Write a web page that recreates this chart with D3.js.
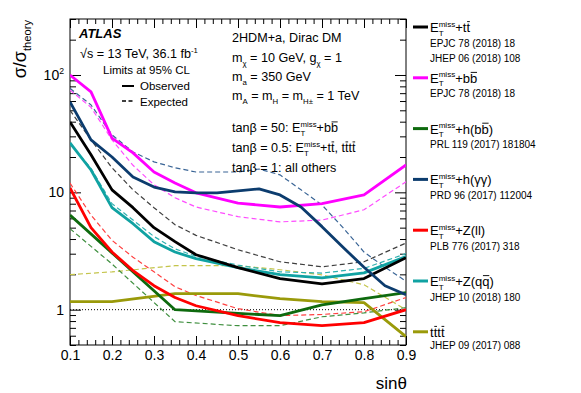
<!DOCTYPE html>
<html>
<head>
<meta charset="utf-8">
<script src="https://cdn.jsdelivr.net/npm/d3@7"></script>
<style>
  body { margin: 0; background: #fff; }
  text { font-family: "Liberation Sans", Arial, sans-serif; fill: #000; white-space: pre; }
</style>
</head>
<body>
<div id="chart"></div>
<script>
// sin(theta) grids the limits were read at
const sinTheta = [0.1, 0.15, 0.2, 0.25, 0.3, 0.35, 0.4, 0.5, 0.6, 0.7, 0.8, 0.9]
const sinThetaFine = [0.1, 0.15, 0.2, 0.25, 0.3, 0.35, 0.4, 0.45, 0.5, 0.55, 0.6, 0.65, 0.7, 0.75, 0.8, 0.85, 0.9]
const sinThetaCoarse = [0.1, 0.2, 0.35, 0.5, 0.6, 0.7, 0.8, 0.9]

// sigma / sigma_theory, observed and expected
const ttObs = [39.8, 20.9, 10.5, 7.4, 5.0, 3.8, 2.94, 2.28, 1.84, 1.66, 1.84, 2.77]
const ttExp = [50, 28, 16.2, 10.5, 7.4, 5.3, 4.3, 3.24, 2.56, 2.32, 2.56, 3.7]
const bbObs = [100, 71.7, 29, 21.7, 14.9, 12, 9.9, 8.1, 7.5, 8.0, 9.5, 17.1]
const bbExp = [74.5, 53, 28, 17, 11.6, 9, 7.5, 6.2, 5.6, 5.8, 7.1, 12.3]
const hbbObs = [6.4, 3.05, 1.0, 0.93, 0.89, 1.1, 1.24, 1.4]
const hbbExp = [4.9, 2.45, 0.79, 0.73, 0.73, 0.87, 0.94, 1.04]
const hggObs = [59, 28, 20, 13.5, 11.1, 10.1, 9.9, 9.9, 10.3, 10.7, 9.5, 7.5, 5.1, 3.4, 2.3, 1.6, 1.34]
const hggExp = [77, 55.6, 30.9, 22.1, 18.2, 16.2, 14.9, 14.9, 14.9, 15.8, 14.1, 10.5, 7.8, 5.0, 3.1, 2.3, 1.75]
const zllObs = [10.9, 5.0, 3.1, 2.15, 1.6, 1.27, 1.08, 0.89, 0.775, 0.73, 0.775, 1.0]
const zllExp = [12, 6.4, 3.9, 2.8, 2.1, 1.57, 1.32, 1.02, 0.89, 0.91, 0.96, 1.27]
const zqqObs = [26.4, 15.5, 7.4, 5.4, 3.8, 3.1, 2.72, 2.28, 1.99, 1.87, 2.06, 2.83]
const zqqExp = [26, 16, 8.0, 5.8, 4.2, 3.3, 2.85, 2.4, 2.1, 2.05, 2.25, 3.0]
const ttttObs = [1.17, 1.17, 1.37, 1.37, 1.24, 1.17, 1.15, 0.59]
const ttttExp = [1.99, 2.1, 2.37, 2.37, 2.19, 1.98, 1.63, 1.0]

const xTicks = [0.1, 0.2, 0.3, 0.4, 0.5, 0.6, 0.7, 0.8, 0.9]
const yTicks = [1, 10, 100]

const canvasWidth = 581
const canvasHeight = 393
const margins = {top: 19, right: 175, bottom: 48, left: 70}
const width = canvasWidth - margins.left - margins.right
const height = canvasHeight - margins.top - margins.bottom

const svg = d3.select('#chart')
  .append('svg')
  .attr('width', canvasWidth)
  .attr('height', canvasHeight)

const plot = svg.append('g')
  .attr('transform', `translate(${margins.left}, ${margins.top})`)

const xScale = d3.scaleLinear().domain([0.1, 0.9]).range([0, width])
const yScale = d3.scaleLog().domain([0.5, 300]).range([height, 0])

// text with sub/superscripts and overlines, drawn piece by piece
function rich(parent, x, y, size, parts, anchor, rotate) {
  const outer = parent.append('g')
  const g = outer.append('g')
  let cx = 0
  parts.forEach(p => {
    if (typeof p === 'string') p = {t: p}
    if (p.t !== undefined) {
      const t = g.append('text').attr('x', cx).attr('y', 0)
        .attr('xml:space', 'preserve')
        .attr('font-size', size).text(p.t)
      if (p.bold) t.attr('font-weight', 'bold')
      if (p.italic) t.attr('font-style', 'italic')
      const w = t.node().getComputedTextLength()
      if (p.bar) {
        g.append('line')
          .attr('x1', cx + size * 0.05).attr('x2', cx + w - size * 0.02)
          .attr('y1', -size * 0.8).attr('y2', -size * 0.8)
          .attr('stroke', '#000').attr('stroke-width', size / 14)
      }
      cx += w
    } else {
      const ss = size * 0.62
      let w = 0
      if (p.sup) {
        const t = g.append('text').attr('x', cx).attr('y', -size * 0.42)
          .attr('font-size', ss).text(p.sup)
        w = Math.max(w, t.node().getComputedTextLength())
      }
      if (p.sub) {
        const t = g.append('text').attr('x', cx).attr('y', size * 0.28)
          .attr('font-size', ss).text(p.sub)
        w = Math.max(w, t.node().getComputedTextLength())
      }
      cx += w
    }
  })
  const shift = anchor === 'end' ? -cx : anchor === 'middle' ? -cx / 2 : 0
  g.attr('transform', `translate(${shift}, 0)`)
  outer.attr('transform', `translate(${x}, ${y})` + (rotate ? ` rotate(${rotate})` : ''))
  return cx
}

// ticks on all four sides, pointing inward
const xMinor = d3.range(5, 46).map(i => i / 50)
const yMinor = [0.5, 0.6, 0.7, 0.8, 0.9, 2, 3, 4, 5, 6, 7, 8, 9, 20, 30, 40, 50, 60, 70, 80, 90, 200, 300]
const noDomain = sel => sel.select('.domain').remove()

plot.append('g').attr('transform', `translate(0, ${height})`)
  .call(d3.axisBottom(xScale).tickValues(xMinor).tickSize(-5).tickFormat('')).call(noDomain)
plot.append('g')
  .call(d3.axisTop(xScale).tickValues(xMinor).tickSize(-5).tickFormat('')).call(noDomain)
plot.append('g').attr('transform', `translate(0, ${height})`)
  .call(d3.axisBottom(xScale).tickValues(xTicks).tickSize(-9).tickPadding(5).tickFormat(d3.format('.1f')))
  .call(noDomain)
  .call(g => g.selectAll('text').attr('font-size', 14).attr('fill', '#000'))
plot.append('g')
  .call(d3.axisTop(xScale).tickValues(xTicks).tickSize(-9).tickFormat('')).call(noDomain)

plot.append('g')
  .call(d3.axisLeft(yScale).tickValues(yMinor).tickSize(-6).tickFormat('')).call(noDomain)
plot.append('g').attr('transform', `translate(${width}, 0)`)
  .call(d3.axisRight(yScale).tickValues(yMinor).tickSize(-6).tickFormat('')).call(noDomain)
plot.append('g')
  .call(d3.axisLeft(yScale).tickValues(yTicks).tickSize(-11).tickFormat('')).call(noDomain)
plot.append('g').attr('transform', `translate(${width}, 0)`)
  .call(d3.axisRight(yScale).tickValues(yTicks).tickSize(-11).tickFormat('')).call(noDomain)

plot.selectAll('.tick line').attr('stroke', '#000')

yTicks.forEach(v => {
  const parts = v === 100 ? ['10', {sup: '2'}] : [String(v)]
  rich(plot, -6, yScale(v) + 5, 14, parts, 'end')
})

plot.append('rect')
  .attr('width', width).attr('height', height)
  .attr('fill', 'none').attr('stroke', '#000').attr('stroke-width', 1)

// reference line at 1
plot.append('line')
  .attr('x1', 0).attr('x2', width)
  .attr('y1', yScale(1)).attr('y2', yScale(1))
  .attr('stroke', '#000').attr('stroke-width', 1).attr('stroke-dasharray', '1,2')

const series = [
  {xs: sinThetaCoarse, exp: ttttExp, obs: ttttObs, color: '#9a9a0a', dash: '#c4c44a'},
  {xs: sinThetaCoarse, exp: hbbExp, obs: hbbObs, color: '#0e6a0e', dash: '#3f8f3f'},
  {xs: sinTheta, exp: zllExp, obs: zllObs, color: '#ff0000', dash: '#ff4040'},
  {xs: sinTheta, exp: zqqExp, obs: zqqObs, color: '#10a2a2', dash: '#30b0b0'},
  {xs: sinTheta, exp: ttExp, obs: ttObs, color: '#000000', dash: '#404040'},
  {xs: sinTheta, exp: bbExp, obs: bbObs, color: '#ff00ff', dash: '#ff4cff'},
  {xs: sinThetaFine, exp: hggExp, obs: hggObs, color: '#0c3c6e', dash: '#3a6596'},
]

const line = d3.line().x(d => xScale(d[0])).y(d => yScale(d[1]))

const clip = svg.append('defs').append('clipPath').attr('id', 'plotclip')
clip.append('rect').attr('width', width).attr('height', height)
const curves = plot.append('g').attr('clip-path', 'url(#plotclip)')

series.forEach(s => {
  curves.append('path')
    .datum(s.xs.map((x, i) => [x, s.exp[i]]))
    .attr('d', line)
    .attr('fill', 'none').attr('stroke', s.dash)
    .attr('stroke-width', 1.2).attr('stroke-dasharray', '5,3')
})
series.forEach(s => {
  curves.append('path')
    .datum(s.xs.map((x, i) => [x, s.obs[i]]))
    .attr('d', line)
    .attr('fill', 'none').attr('stroke', s.color)
    .attr('stroke-width', 2.8).attr('stroke-linejoin', 'round')
})

// axis titles
rich(svg, 407, 389, 17, ['sinθ'], 'end')
rich(svg, 26, 20, 18, ['σ/σ', {sub: 'theory'}], 'end', -90)

// annotations, top left
rich(svg, 79, 38, 13, [{t: 'ATLAS', bold: true, italic: true}])
rich(svg, 80, 58, 12.6, ['√s = 13 TeV, 36.1 fb', {sup: '-1'}])
rich(svg, 103, 74, 11.5, ['Limits at 95% CL'])
svg.append('line').attr('x1', 122).attr('x2', 134).attr('y1', 86).attr('y2', 86)
  .attr('stroke', '#000').attr('stroke-width', 2)
rich(svg, 140, 90, 11.5, ['Observed'])
svg.append('line').attr('x1', 122).attr('x2', 134).attr('y1', 101).attr('y2', 101)
  .attr('stroke', '#000').attr('stroke-width', 1.3).attr('stroke-dasharray', '4,2.5')
rich(svg, 140, 106, 11.5, ['Expected'])

// annotations, model parameters
const E = ['E', {sup: 'miss', sub: 'T'}]
const fs = 12.6
rich(svg, 232, 42, fs, ['2HDM+a, Dirac DM'])
rich(svg, 232, 62, fs, ['m', {sub: 'χ'}, ' = 10 GeV, g', {sub: 'χ'}, ' = 1'])
rich(svg, 232, 81, fs, ['m', {sub: 'a'}, ' = 350 GeV'])
rich(svg, 232, 100, fs, ['m', {sub: 'A'}, ' = m', {sub: 'H'}, ' = m', {sub: 'H±'}, ' = 1 TeV'])
rich(svg, 232, 132, fs, ['tanβ = 50: ', ...E, '+b', {t: 'b', bar: true}])
rich(svg, 232, 152, fs, ['tanβ = 0.5: ', ...E, '+t', {t: 't', bar: true}, ', t', {t: 't', bar: true}, 't', {t: 't', bar: true}])
rich(svg, 232, 172, fs, ['tanβ = 1: all others'])

// legend
const legendEntries = [
  {color: '#000000', label: [...E, '+t', {t: 't', bar: true}], refs: ['EPJC 78 (2018) 18', 'JHEP 06 (2018) 108']},
  {color: '#ff00ff', label: [...E, '+b', {t: 'b', bar: true}], refs: ['EPJC 78 (2018) 18']},
  {color: '#0e6a0e', label: [...E, '+h(b', {t: 'b', bar: true}, ')'], refs: ['PRL 119 (2017) 181804']},
  {color: '#0c3c6e', label: [...E, '+h(γγ)'], refs: ['PRD 96 (2017) 112004']},
  {color: '#ff0000', label: [...E, '+Z(ll)'], refs: ['PLB 776 (2017) 318']},
  {color: '#10a2a2', label: [...E, '+Z(q', {t: 'q', bar: true}, ')'], refs: ['JHEP 10 (2018) 180']},
  {color: '#9a9a0a', label: ['t', {t: 't', bar: true}, 't', {t: 't', bar: true}], refs: ['JHEP 09 (2017) 088']},
]

legendEntries.forEach((e, i) => {
  const base = 32 + i * 50.8
  svg.append('line')
    .attr('x1', 413).attr('x2', 428).attr('y1', base - 5).attr('y2', base - 5)
    .attr('stroke', e.color).attr('stroke-width', 3)
  rich(svg, 430, base, 13, e.label)
  const gap = i === legendEntries.length - 1 ? 12 : 14.5
  e.refs.forEach((r, j) => {
    rich(svg, 430, base + gap + j * 15, 10, [r])
  })
})
</script>
</body>
</html>
